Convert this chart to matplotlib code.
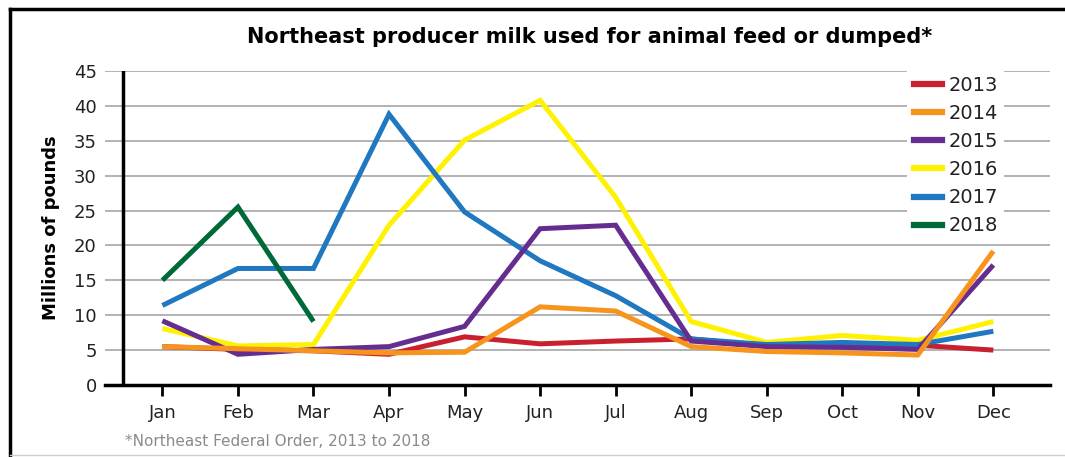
import matplotlib.pyplot as plt
from matplotlib.lines import Line2D

months = ["Jan", "Feb", "Mar", "Apr", "May", "Jun",
          "Jul", "Aug", "Sep", "Oct", "Nov", "Dec"]

# millions of pounds
y2013 = [5.5, 5.1, 4.9, 4.4, 6.9, 5.9, 6.3, 6.6, 5.6, 5.5, 5.7, 5.0]
y2014 = [5.5, 5.2, 4.9, 4.6, 4.7, 11.2, 10.6, 5.5, 4.8, 4.6, 4.3, 19.2]
y2015 = [9.2, 4.4, 5.1, 5.5, 8.4, 22.4, 22.9, 6.3, 5.5, 5.4, 5.1, 17.2]
y2016 = [8.1, 5.6, 5.8, 22.9, 35.1, 40.8, 26.9, 9.1, 6.1, 7.1, 6.4, 9.1]
y2017 = [11.4, 16.7, 16.7, 38.8, 24.8, 17.8, 12.8, 6.6, 5.8, 6.1, 5.8, 7.7]
y2018 = [15.0, 25.5, 9.1]

years = ["2013", "2014", "2015", "2016", "2017", "2018"]
colors = {"2013": "#c8202f", "2014": "#f7941d", "2015": "#662d91",
          "2016": "#fff200", "2017": "#1f78c0", "2018": "#00693a"}
series = {"2013": y2013, "2014": y2014, "2015": y2015,
          "2016": y2016, "2017": y2017, "2018": y2018}
# drawing order (bottom to top) as seen in the picture
draw_order = ["2016", "2013", "2017", "2018", "2015", "2014"]

fig = plt.figure(figsize=(10.65, 4.57), dpi=100)
ax = fig.add_axes([105 / 1065, 1 - 385 / 457, 945 / 1065, 314 / 457])

x = list(range(len(months)))
for i, yr in enumerate(draw_order):
    vals = series[yr]
    ax.plot(x[:len(vals)], vals, color=colors[yr], lw=3.6,
            solid_capstyle="butt", solid_joinstyle="miter", zorder=3 + i)

ax.set_xlim(-0.76, 11.75)
ax.set_ylim(0, 45)
ax.set_yticks(range(0, 46, 5))
ax.set_xticks(x)
ax.set_xticklabels(months, fontsize=13, color="#222222")
ax.tick_params(axis="y", length=0, pad=6, labelsize=13, labelcolor="#222222")
ax.tick_params(axis="x", length=8, width=2, direction="out", pad=6)
ax.grid(axis="y", color="#a6a6a6", lw=1.2)
ax.set_axisbelow(True)
for s in ["top", "right", "left"]:
    ax.spines[s].set_visible(False)
ax.spines["bottom"].set_linewidth(2.5)
ax.axvline(-0.52, color="black", lw=2.5, zorder=2)

ax.set_ylabel("Millions of pounds", fontsize=13, fontweight="bold", labelpad=10)

handles = [Line2D([], [], color=colors[yr], lw=4.5) for yr in years]
leg = ax.legend(handles, years, loc="upper right", bbox_to_anchor=(0.958, 1.025),
                fontsize=14, frameon=True, facecolor="white", edgecolor="none",
                framealpha=1, fancybox=False, handlelength=1.45,
                handletextpad=0.3, labelspacing=0.47, borderpad=0.35,
                borderaxespad=0.3)
leg.set_zorder(20)
for t in leg.get_texts():
    t.set_color("#222222")

fig.text(590 / 1065, 1 - 37 / 457,
         "Northeast producer milk used for animal feed or dumped*",
         ha="center", va="center", fontsize=15, fontweight="bold")
fig.text(125 / 1065, 1 - 441 / 457, "*Northeast Federal Order, 2013 to 2018",
         ha="left", va="center", fontsize=11, color="#8a8a8a")

# frame lines: top and left black, bottom light gray
fig.add_artist(Line2D([10 / 1065, 1], [1 - 9 / 457, 1 - 9 / 457],
                      transform=fig.transFigure, color="black", lw=2.5))
fig.add_artist(Line2D([10 / 1065, 10 / 1065], [0, 1 - 9 / 457],
                      transform=fig.transFigure, color="black", lw=2.5))
fig.add_artist(Line2D([10 / 1065, 1], [1 - 455 / 457, 1 - 455 / 457],
                      transform=fig.transFigure, color="#cccccc", lw=1))

fig.savefig("out.png", dpi=100)
